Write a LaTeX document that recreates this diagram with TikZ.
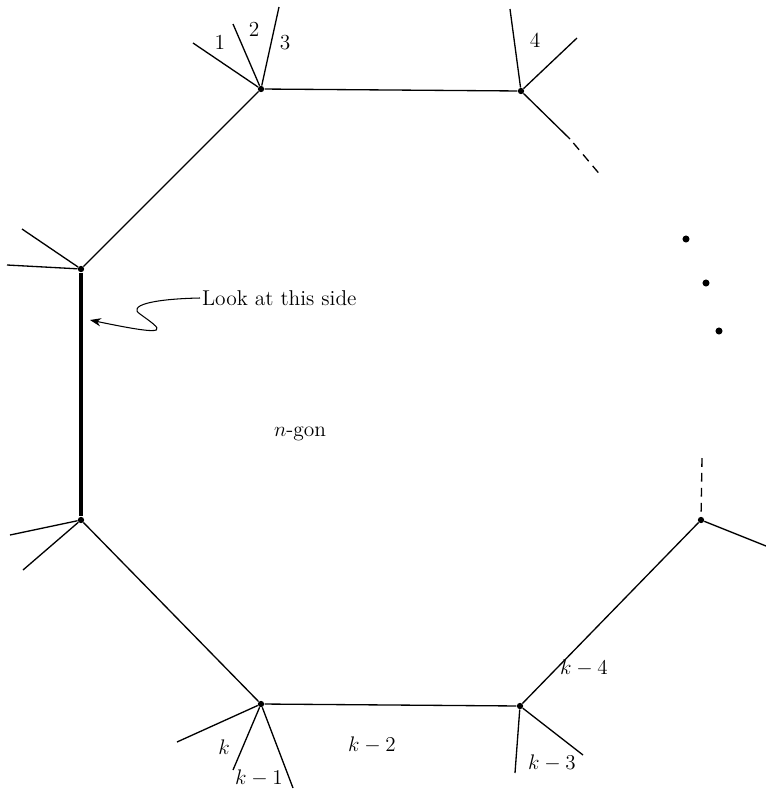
\documentclass[tikz,border=0pt]{standalone}
\usepackage{tikz}
\usetikzlibrary{arrows.meta}

\begin{document}
\begin{tikzpicture}[
  x=0.02cm, y=-0.02cm,
  font=\fontsize{12.2}{14}\selectfont,
  edge/.style={draw=black, line width=0.75pt},
  sideedge/.style={draw=black, line width=2.6pt},
  dashedge/.style={draw=black, line width=0.75pt, dash pattern=on 5pt off 3.5pt},
  vert/.style={circle, fill=black, inner sep=0pt, minimum size=3.6pt},
  lab/.style={inner sep=1pt},
  arr/.style={-{Stealth[length=2.2mm]}, draw=black, line width=0.6pt}
]
\useasboundingbox (0,0) rectangle (766,792);

% Vertices of the polygon
\node[vert] (a) at (261,89) {};
\node[vert] (b) at (521,91) {};
\node[vert] (c) at (81,269) {};
\node[vert] (d) at (81,520) {};
\node[vert] (e) at (261,704) {};
\node[vert] (f) at (520,706) {};
\node[vert] (g) at (701,520) {};

% Free ends of the legs
\coordinate (a1) at (193,43);
\coordinate (a2) at (233,24);
\coordinate (a3) at (279,7);
\coordinate (b1) at (510,9);
\coordinate (b2) at (577,38);
\coordinate (b3) at (570,139);
\coordinate (b4) at (602,177);
\coordinate (c1) at (22,229);
\coordinate (c2) at (7,265);
\coordinate (d1) at (10,535);
\coordinate (d2) at (23,570);
\coordinate (e1) at (177,742);
\coordinate (e2) at (233,770);
\coordinate (e3) at (293,788);
\coordinate (f1) at (515,773);
\coordinate (f2) at (583,755);
\coordinate (g1) at (766,546);
\coordinate (g2) at (702,458);

% Sides
\draw[edge] (a) -- (b);
\draw[edge] (a) -- (c);
\draw[sideedge] (c) -- (d);
\draw[edge] (d) -- (e);
\draw[edge] (e) -- (f);
\draw[edge] (f) -- (g);
\draw[edge] (b) -- (b3);
\draw[dashedge, dash phase=-3pt] (b3) -- (b4);
\draw[dashedge] (g2) -- (g);

% Legs
\foreach \v/\w in {a/a1,a/a2,a/a3,b/b1,b/b2,c/c1,c/c2,d/d1,d/d2,e/e1,e/e2,e/e3,f/f1,f/f2,g/g1}
  \draw[edge] (\v) -- (\w);

% Dots
\foreach \p [count=\i] in {(686,239),(706,283),(719,331)}
  \node[vert, minimum size=4pt] (dot\i) at \p {};

% Labels
\node[lab] (l1) at (220,42) {1};
\node[lab] (l2) at (254,29) {2};
\node[lab] (l3) at (285,43) {3};
\node[lab] (l4) at (535,40) {4};
\node[lab] (lk) at (224,747) {$k$};
\node[lab] (lk1) at (259,778) {$k-1$};
\node[lab] (lk2) at (372,745) {$k-2$};
\node[lab] (lk3) at (552,763) {$k-3$};
\node[lab] (lk4) at (584,668) {$k-4$};
\node[lab] (ngon) at (300,434) {$n$-gon};

% Pointer to the thick side
\node[lab, anchor=west] (look) at (200,298) {Look at this side};
\draw[arr] (look.west) .. controls (150,299) and (128,306) .. (140,314)
  .. controls (162,330) and (176,338) .. (90,320);
\end{tikzpicture}
\end{document}
